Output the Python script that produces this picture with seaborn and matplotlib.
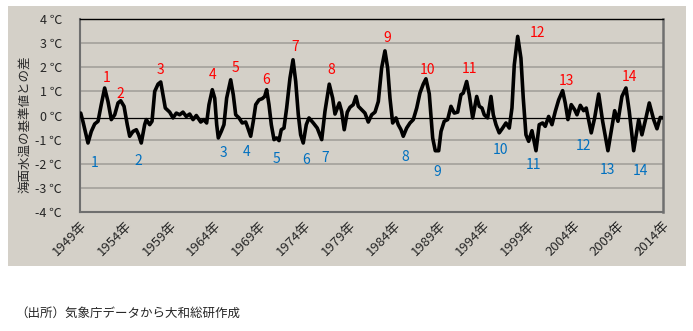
import matplotlib
matplotlib.use("Agg")
import matplotlib.pyplot as plt
from matplotlib.patches import Rectangle
import seaborn as sns
import pandas as pd

# ---- data ----
years = [1949.08, 1949.33, 1949.89, 1950.26, 1950.64, 1951.01, 1951.37, 1951.75, 1952.12, 1952.49,
         1952.87, 1953.24, 1953.54, 1953.91, 1954.27, 1954.54, 1954.91, 1955.28, 1955.54, 1955.83,
         1956.21, 1956.39, 1956.77, 1957.03, 1957.33, 1957.70, 1958.00, 1958.25, 1958.51, 1959.00,
         1959.37, 1959.74, 1960.11, 1960.48, 1960.85, 1961.23, 1961.60, 1961.97, 1962.46, 1962.82,
         1963.12, 1963.38, 1963.75, 1964.02, 1964.24, 1964.42, 1964.75, 1965.05, 1965.35, 1965.80,
         1966.09, 1966.36, 1966.73, 1967.09, 1967.47, 1967.65, 1968.03, 1968.32, 1968.59, 1968.96,
         1969.32, 1969.59, 1969.81, 1970.07, 1970.33, 1970.63, 1970.93, 1971.19, 1971.44, 1971.74,
         1972.04, 1972.41, 1972.75, 1973.05, 1973.34, 1973.60, 1973.89, 1974.23, 1974.53, 1975.01,
         1975.45, 1975.95, 1976.31, 1976.79, 1977.17, 1977.43, 1977.91, 1978.17, 1978.46, 1978.80,
         1979.10, 1979.47, 1979.77, 1980.03, 1980.40, 1980.77, 1981.14, 1981.52, 1981.89, 1982.26,
         1982.63, 1983.00, 1983.30, 1983.56, 1983.86, 1984.23, 1984.48, 1984.79, 1985.04, 1985.42,
         1985.79, 1986.16, 1986.54, 1986.90, 1987.27, 1987.57, 1987.94, 1988.32, 1988.61, 1988.99,
         1989.25, 1989.61, 1989.99, 1990.36, 1990.73, 1991.11, 1991.47, 1991.73, 1992.11, 1992.40,
         1992.78, 1993.23, 1993.52, 1993.82, 1994.07, 1994.45, 1994.82, 1995.08, 1995.38, 1995.74,
         1996.12, 1996.49, 1996.86, 1997.16, 1997.42, 1997.80, 1998.16, 1998.42, 1998.72, 1999.02,
         1999.39, 1999.84, 2000.20, 2000.58, 2000.87, 2001.25, 2001.62, 2001.99, 2002.37, 2002.81,
         2003.10, 2003.40, 2003.77, 2004.15, 2004.41, 2004.78, 2005.15, 2005.44, 2006.00, 2006.38,
         2006.83, 2007.27, 2007.86, 2008.31, 2008.61, 2008.98, 2009.42, 2009.87, 2010.24, 2010.73,
         2011.29, 2011.65, 2012.10, 2012.47, 2012.96, 2013.33, 2013.69, 2014.00]
anomaly = [0.10, -0.25, -1.14, -0.66, -0.35, -0.24, 0.45, 1.14, 0.58, -0.17,
           0.03, 0.52, 0.61, 0.38, -0.38, -0.86, -0.66, -0.59, -0.80, -1.14,
           -0.38, -0.17, -0.38, -0.24, 1.00, 1.30, 1.39, 0.86, 0.31, 0.14,
           -0.10, 0.10, 0.03, 0.14, -0.04, 0.06, -0.17, 0.00, -0.27, -0.17,
           -0.31, 0.45, 1.07, 0.72, -0.38, -0.93, -0.66, -0.38, 0.72, 1.48,
           0.86, 0.03, -0.10, -0.31, -0.27, -0.45, -0.86, -0.24, 0.45, 0.65,
           0.70, 0.79, 1.07, 0.45, -0.38, -1.00, -0.93, -1.04, -0.59, -0.52,
           0.31, 1.55, 2.31, 1.41, 0.03, -0.80, -1.14, -0.38, -0.10, -0.31,
           -0.52, -1.00, 0.17, 1.30, 0.72, 0.06, 0.52, 0.17, -0.59, 0.14,
           0.34, 0.45, 0.79, 0.38, 0.24, 0.10, -0.27, 0.03, 0.14, 0.58,
           1.97, 2.68, 1.97, 0.72, -0.31, -0.10, -0.38, -0.59, -0.86, -0.52,
           -0.31, -0.17, 0.31, 0.93, 1.30, 1.52, 0.90, -0.93, -1.46, -1.46,
           -0.66, -0.24, -0.17, 0.38, 0.10, 0.14, 0.86, 0.93, 1.41, 0.86,
           -0.10, 0.79, 0.38, 0.31, 0.03, -0.10, 0.79, 0.03, -0.38, -0.72,
           -0.52, -0.31, -0.52, 0.31, 2.10, 3.28, 2.38, 0.72, -0.80, -1.07,
           -0.63, -1.46, -0.38, -0.31, -0.45, -0.04, -0.38, 0.17, 0.65, 1.03,
           0.52, -0.17, 0.45, 0.24, 0.03, 0.42, 0.20, 0.31, -0.72, -0.10,
           0.89, -0.24, -1.46, -0.45, 0.20, -0.24, 0.79, 1.14, 0.17, -1.46,
           -0.17, -0.80, -0.10, 0.52, -0.17, -0.55, -0.08, -0.10]

tick_years = list(range(1949, 2015, 5))
tick_labels = [f"{y}年" for y in tick_years]
y_ticks = list(range(-4, 5))
y_tick_labels = [f"{v} ℃" for v in y_ticks]

# El Nino (red) and La Nina (blue) event labels: position (year, value)
nino_ids = [str(i) for i in range(1, 15)]
nino_x = [1951.98, 1953.54, 1957.92, 1963.75, 1966.28, 1969.74, 1972.97,
          1977.06, 1983.26, 1987.72, 1992.40, 1999.98, 2003.26, 2010.31]
nino_y = [1.55, 0.90, 1.87, 1.66, 1.97, 1.48, 2.82, 1.87, 3.21, 1.90, 1.93, 3.44, 1.44, 1.58]
nina_ids = [str(i) for i in range(1, 15)]
nina_x = [1950.60, 1955.50, 1964.98, 1967.58, 1970.93, 1974.19, 1976.39,
          1985.23, 1988.83, 1995.93, 1999.54, 2005.19, 2007.79, 2011.43]
nina_y = [-1.97, -1.90, -1.55, -1.53, -1.80, -1.86, -1.76, -1.72, -2.36, -1.42, -2.07, -1.28, -2.24, -2.31]

y_label = "海面水温の基準値との差"
source_text = "（出所）気象庁データから大和総研作成"

# ---- style ----
sns.set_style("white")
plt.rcParams['font.family'] = ['Noto Sans CJK JP', 'DejaVu Sans']

BG = '#d4d0c8'
W, H = 693, 331
fig = plt.figure(figsize=(W / 100, H / 100), dpi=100, facecolor='white')
fig.patches.append(Rectangle((8 / W, 1 - 266 / H), (686 - 8) / W, (266 - 6) / H,
                             transform=fig.transFigure, facecolor=BG, edgecolor='none', zorder=-1))

ax = fig.add_axes([80 / W, 1 - 212 / H, (663 - 80) / W, (212 - 19) / H])
ax.set_facecolor(BG)

df = pd.DataFrame({"year": years, "anomaly": anomaly})
for g in [-3, -2, -1, 1, 2, 3]:
    ax.axhline(g, color='#a7a49f', lw=1.3, zorder=1)
ax.axhline(-0.1, color='black', lw=0.9, zorder=2)

sns.lineplot(data=df, x="year", y="anomaly", ax=ax, color='black', lw=2.6,
             sort=False, estimator=None, zorder=3)
for line in ax.get_lines():
    line.set_solid_joinstyle('round')
    line.set_solid_capstyle('round')

for t, x, y in zip(nino_ids, nino_x, nino_y):
    ax.text(x, y, t, color='#ff0000', fontsize=10, ha='center', va='center', zorder=4)
for t, x, y in zip(nina_ids, nina_x, nina_y):
    ax.text(x, y, t, color='#0070c0', fontsize=10, ha='center', va='center', zorder=4)

ax.set_xlim(1949, 2014)
ax.set_ylim(-4, 4)
ax.set_xticks(tick_years)
ax.set_xticklabels(tick_labels, rotation=45, ha='right', va='top', rotation_mode='anchor', fontsize=9.5)
ax.set_yticks(y_ticks)
ax.set_yticklabels(y_tick_labels, fontsize=9)
ax.tick_params(axis='x', length=0, pad=5)
ax.tick_params(axis='y', length=0, pad=13)
ax.set_xlabel("")
ax.set_ylabel("")

for side, c, lw in [('left', '#6f6f6f', 1.5), ('bottom', '#6f6f6f', 1.5),
                    ('right', '#6f6f6f', 1.8), ('top', 'black', 1.0)]:
    ax.spines[side].set_visible(True)
    ax.spines[side].set_color(c)
    ax.spines[side].set_linewidth(lw)

fig.text(25 / W, 1 - 124 / H, y_label, rotation=90, ha='center', va='center', fontsize=9)
fig.text(15 / W, 1 - 313 / H, source_text, ha='left', va='center', fontsize=9)

fig.savefig("out.png", dpi=100, facecolor='white')
